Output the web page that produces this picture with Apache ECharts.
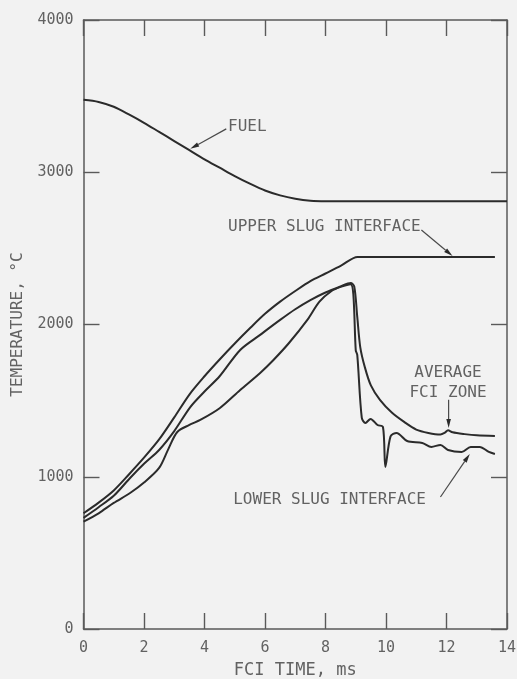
<!DOCTYPE html>
<html>
<head>
<meta charset="utf-8">
<script src="https://cdn.jsdelivr.net/npm/echarts/dist/echarts.min.js"></script>
<style>
  html, body { margin: 0; padding: 0; background: #f2f2f2; }
  #chart { width: 517px; height: 679px; }
</style>
</head>
<body>
<div id="chart"></div>
<script>
// FCI transient temperatures (time in ms, temperature in °C)
const fuelTime = [0, 0.5, 1, 1.5, 2, 2.5, 3, 3.5, 4, 4.5, 5, 5.5, 6, 6.5, 7, 7.5, 8, 14];
const fuelTemp = [3476, 3462, 3430, 3380, 3325, 3265, 3205, 3145, 3085, 3030, 2975, 2925, 2880, 2848, 2826, 2813, 2810, 2810];

const upperTime = [0, 0.5, 1, 1.5, 2, 2.5, 3, 3.5, 4, 4.5, 5, 5.5, 6, 6.5, 7, 7.5, 8, 8.5, 9.06, 9.3, 13.6];
const upperTemp = [760, 830, 910, 1015, 1125, 1245, 1390, 1540, 1660, 1770, 1875, 1975, 2070, 2150, 2220, 2285, 2335, 2385, 2444, 2444, 2444];

const avgTime = [0, 0.5, 1, 1.54, 2, 2.5, 3, 3.53, 4, 4.5, 5.18, 5.84, 6.5, 7, 7.5, 8, 8.5, 8.83, 8.95, 9.05, 9.15, 9.3, 9.5, 9.8, 10.2, 10.6, 11.0, 11.4, 11.8, 11.95, 12.05, 12.2, 12.6, 13.0, 13.6];
const avgTemp = [730, 800, 875, 992, 1085, 1176, 1300, 1458, 1560, 1660, 1833, 1932, 2030, 2100, 2160, 2210, 2250, 2273, 2250, 2050, 1850, 1720, 1600, 1505, 1420, 1360, 1310, 1288, 1278, 1290, 1305, 1292, 1280, 1272, 1268];

const lowerTime = [0, 0.5, 1, 1.54, 2, 2.5, 2.8, 3.1, 3.5, 3.86, 4.5, 5.18, 5.84, 6.28, 6.8, 7.4, 7.8, 8.2, 8.5, 8.83, 8.92, 9.0, 9.05, 9.2, 9.32, 9.49, 9.72, 9.9, 9.98, 10.15, 10.35, 10.7, 11.2, 11.5, 11.8, 12.05, 12.5, 12.8, 13.1, 13.4, 13.6];
const lowerTemp = [705, 760, 828, 893, 962, 1058, 1180, 1294, 1340, 1373, 1450, 1570, 1682, 1767, 1880, 2030, 2150, 2220, 2247, 2265, 2200, 1830, 1800, 1386, 1353, 1380, 1340, 1327, 1064, 1265, 1288, 1235, 1222, 1196, 1209, 1176, 1163, 1196, 1196, 1163, 1150];

const xTicks = { min: 0, max: 14, step: 2 };
const yTicks = { min: 0, max: 4000, step: 1000 };

const zip = (xs, ys) => xs.map((x, i) => [x, ys[i]]);

const ink = '#2b2b2b';
const textGray = '#626262';
const axisGray = '#5a5a5a';
const monoFont = '"DejaVu Sans Mono", "Liberation Mono", monospace';

const chart = echarts.init(document.getElementById('chart'), null, { renderer: 'canvas' });

function curve(name, xs, ys) {
  return {
    name: name,
    type: 'line',
    data: zip(xs, ys),
    showSymbol: false,
    smooth: 0.3,
    lineStyle: { color: ink, width: 2 },
    emphasis: { disabled: true },
    silent: true,
    z: 3
  };
}

const tickStyle = { show: true, inside: true, length: 16, lineStyle: { color: axisGray, width: 1.4 } };
const lineStyle = { show: true, onZero: false, lineStyle: { color: axisGray, width: 1.5 } };

chart.setOption({
  backgroundColor: '#f2f2f2',
  animation: false,
  grid: { left: 83.5, right: 10, top: 20, bottom: 50, containLabel: false, outerBoundsMode: 'none' },
  xAxis: [
    {
      type: 'value', min: xTicks.min, max: xTicks.max, interval: xTicks.step,
      position: 'bottom',
      axisLine: lineStyle, axisTick: tickStyle, splitLine: { show: false },
      axisLabel: { margin: 12, color: textGray, fontSize: 15, fontFamily: monoFont },
      name: 'FCI TIME, ms', nameLocation: 'middle', nameGap: 33,
      nameTextStyle: { color: textGray, fontSize: 17, fontFamily: monoFont }
    },
    {
      type: 'value', min: xTicks.min, max: xTicks.max, interval: xTicks.step,
      position: 'top',
      axisLine: lineStyle, axisTick: tickStyle, splitLine: { show: false },
      axisLabel: { show: false }
    }
  ],
  yAxis: [
    {
      type: 'value', min: yTicks.min, max: yTicks.max, interval: yTicks.step,
      position: 'left',
      axisLine: lineStyle, axisTick: tickStyle, splitLine: { show: false },
      axisLabel: { margin: 10, color: textGray, fontSize: 15, fontFamily: monoFont, formatter: v => String(v) },
      name: 'TEMPERATURE, °C', nameLocation: 'middle', nameGap: 58, nameRotate: 90,
      nameTextStyle: { color: textGray, fontSize: 16, fontFamily: monoFont }
    },
    {
      type: 'value', min: yTicks.min, max: yTicks.max, interval: yTicks.step,
      position: 'right',
      axisLine: lineStyle, axisTick: tickStyle, splitLine: { show: false },
      axisLabel: { show: false }
    }
  ],
  series: [
    curve('FUEL', fuelTime, fuelTemp),
    curve('UPPER SLUG INTERFACE', upperTime, upperTemp),
    curve('AVERAGE FCI ZONE', avgTime, avgTemp),
    curve('LOWER SLUG INTERFACE', lowerTime, lowerTemp)
  ]
});

// Annotation text and leader arrows, placed in data coordinates
const toPx = (t, T) => chart.convertToPixel({ xAxisIndex: 0, yAxisIndex: 0 }, [t, T]);

const notes = [
  { text: 'FUEL', at: [4.78, 3300], align: 'left' },
  { text: 'UPPER SLUG INTERFACE', at: [4.78, 2641], align: 'left' },
  { text: 'AVERAGE', at: [12.05, 1682], align: 'center' },
  { text: 'FCI ZONE', at: [12.05, 1551], align: 'center' },
  { text: 'LOWER SLUG INTERFACE', at: [4.95, 848], align: 'left' }
];

const arrows = [
  { from: [4.72, 3285], to: [3.53, 3154] },
  { from: [11.17, 2621], to: [12.2, 2450] },
  { from: [12.07, 1505], to: [12.07, 1321] },
  { from: [11.8, 867], to: [12.77, 1150] }
];

const graphics = [];
notes.forEach(n => {
  const p = toPx(n.at[0], n.at[1]);
  graphics.push({
    type: 'text', x: p[0], y: p[1], silent: true,
    style: {
      text: n.text, fill: textGray, font: '16px ' + monoFont,
      textAlign: n.align, textVerticalAlign: 'middle'
    }
  });
});
arrows.forEach(a => {
  const p0 = toPx(a.from[0], a.from[1]);
  const p1 = toPx(a.to[0], a.to[1]);
  const dx = p1[0] - p0[0], dy = p1[1] - p0[1];
  const len = Math.hypot(dx, dy);
  const ux = dx / len, uy = dy / len;
  const head = 9, half = 2.3;
  const bx = p1[0] - ux * head, by = p1[1] - uy * head;
  graphics.push({
    type: 'line', silent: true,
    shape: { x1: p0[0], y1: p0[1], x2: bx, y2: by },
    style: { stroke: '#4a4a4a', lineWidth: 1.2 }
  });
  graphics.push({
    type: 'polygon', silent: true,
    shape: { points: [[p1[0], p1[1]], [bx - uy * half, by + ux * half], [bx + uy * half, by - ux * half]] },
    style: { fill: '#2b2b2b' }
  });
});
chart.setOption({ graphic: graphics });
</script>
</body>
</html>
